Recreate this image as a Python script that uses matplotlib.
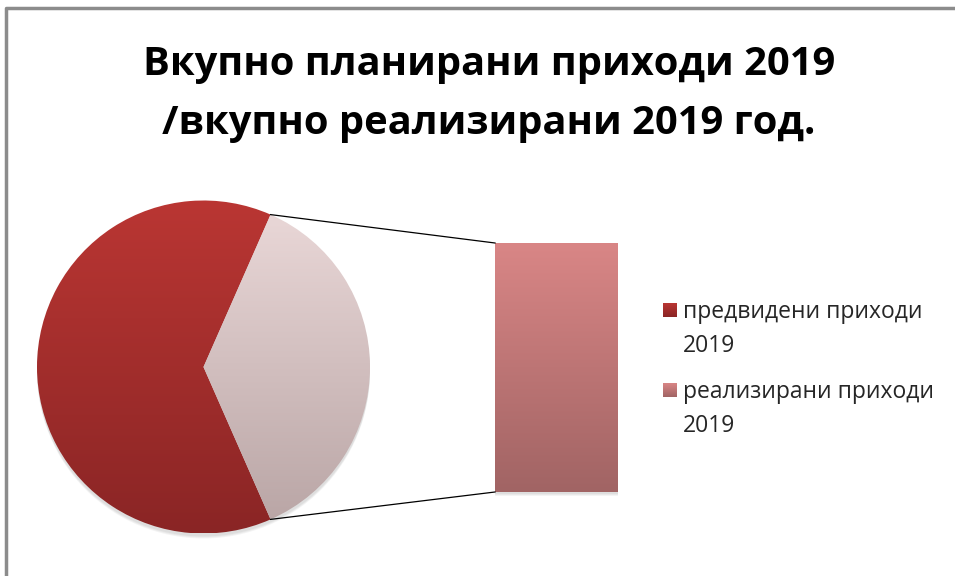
import numpy as np
import matplotlib
matplotlib.use("Agg")
import matplotlib.pyplot as plt
from matplotlib.colors import LinearSegmentedColormap
from matplotlib.patches import Rectangle

plt.rcParams["font.family"] = ["Open Sans", "DejaVu Sans"]

# data
title = "Вкупно планирани приходи 2019\n/вкупно реализирани 2019 год."
labels = ["предвидени приходи\n2019", "реализирани приходи\n2019"]
shares = [63.2, 36.8]          # pie shares, %
bar_values = [36.8]            # realised part shown in the bar

# gradient colours (top, bottom)
pie_grads = [("#ba3633", "#8a2525"), ("#ebd9d9", "#b8a4a4")]
bar_grad = ("#d98686", "#a16464")

fig = plt.figure(figsize=(9.55, 5.76), dpi=100)
ax = fig.add_axes([0, 0, 1, 1])

# frame (only left and top edge visible in the crop)
ax.plot([6, 6, 955], [576, 8, 8], color="#8c8c8c", lw=2.5, solid_capstyle="butt")

ax.text(489, 94, title, ha="center", va="center", fontsize=28.7,
        fontweight="bold", linespacing=1.66)

cx, cy, r = 203.5, 367, 166.5
half = shares[1] / sum(shares) * 180.0

# soft shadow under the pie
for k in range(3):
    ax.add_patch(plt.Circle((cx, cy + 3 + k), r, color="k", alpha=0.045, lw=0))

wedges, _ = ax.pie(shares, center=(cx, cy), radius=r, startangle=half,
                   counterclock=True, colors=["none", "none"],
                   wedgeprops=dict(lw=0))

grad = np.linspace(0, 1, 256).reshape(-1, 1)
for w, (c0, c1) in zip(wedges, pie_grads):
    cmap = LinearSegmentedColormap.from_list("g", [c0, c1])
    im = ax.imshow(grad, cmap=cmap, aspect="auto",
                   extent=[cx - r, cx + r, cy + r, cy - r], zorder=2)
    im.set_clip_path(w)

# bar of the realised slice
bx, bw, btop = 495, 123, 243
scale = 249 / bar_values[0]
bh = bar_values[0] * scale
for k in range(3):
    ax.add_patch(Rectangle((bx, btop + 2 + k), bw, bh, color="k", alpha=0.045, lw=0))
bars = ax.bar([bx + bw / 2], [bh], width=bw, bottom=btop, color="none", lw=0, zorder=2)
cmap = LinearSegmentedColormap.from_list("b", list(bar_grad))
im = ax.imshow(grad, cmap=cmap, aspect="auto",
               extent=[bx, bx + bw, btop + bh, btop], zorder=2)
im.set_clip_path(bars[0])

# connector lines
t = np.deg2rad(half)
ax.plot([cx + r * np.cos(t), bx], [cy - r * np.sin(t), btop], color="k", lw=0.9, zorder=3)
ax.plot([cx + r * np.cos(t), bx], [cy + r * np.sin(t), btop + bh], color="k", lw=0.9, zorder=3)

# legend
leg_cols = [pie_grads[0], bar_grad]
for i, (lab, (c0, c1)) in enumerate(zip(labels, leg_cols)):
    y = 310 + i * 80
    cm = LinearSegmentedColormap.from_list("l", [c0, c1])
    ax.imshow(grad, cmap=cm, aspect="auto", extent=[663, 677, y + 7, y - 7], zorder=2)
    ax.text(683, y + 19, lab, ha="left", va="center", fontsize=16.5,
            color="#262626", linespacing=1.5)

ax.set_xlim(0, 955)
ax.set_ylim(576, 0)
ax.set_aspect("equal")
ax.axis("off")

fig.savefig("out.png", dpi=100)
